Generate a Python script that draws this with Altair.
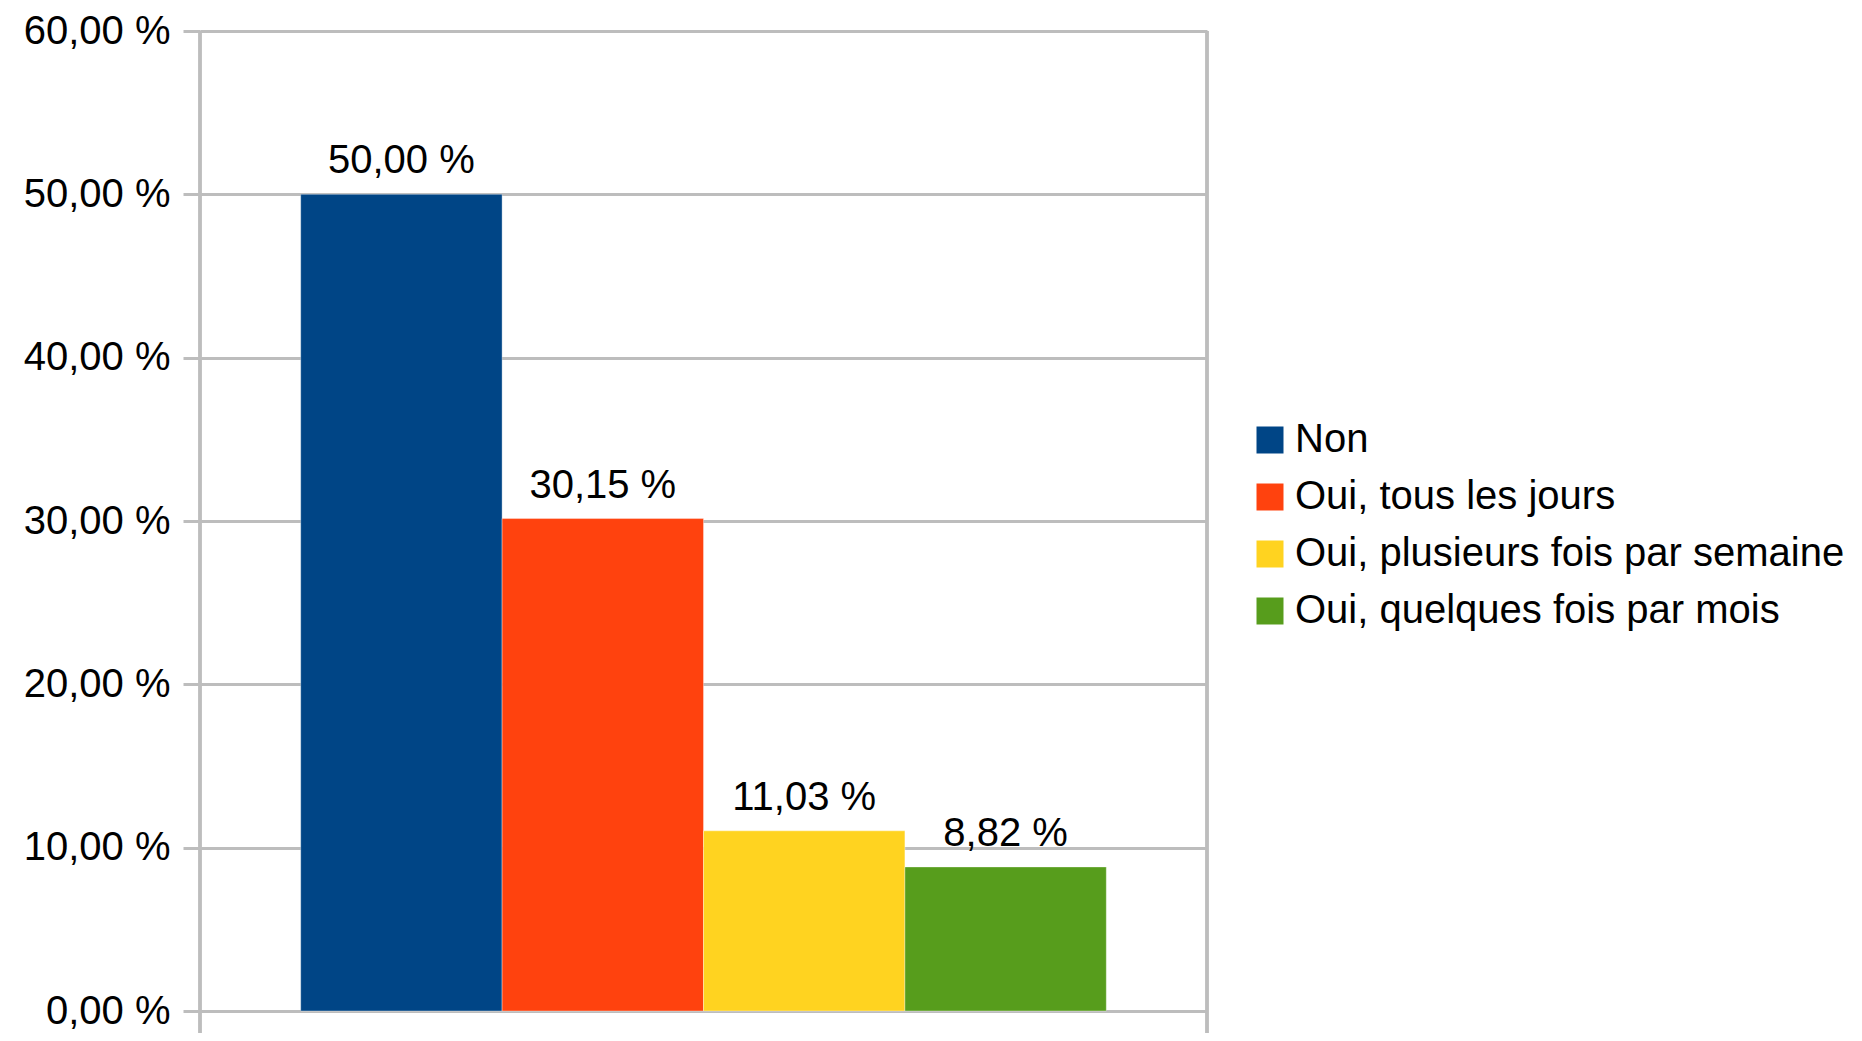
import altair as alt
import pandas as pd

categories = ["Non", "Oui, tous les jours", "Oui, plusieurs fois par semaine", "Oui, quelques fois par mois"]
values = [50.00, 30.15, 11.03, 8.82]
colors = ["#004586", "#ff420e", "#ffd320", "#579d1c"]
y_ticks = [0, 10, 20, 30, 40, 50, 60]

df = pd.DataFrame({"cat": categories, "val": values})

W, H = 1007, 980
FONT = "Liberation Sans"
GRID = "#bdbdbd"

base = alt.Chart(df)

x_enc = alt.X("cat:N", sort=categories, axis=None,
              scale=alt.Scale(paddingInner=0, paddingOuter=0.5))
y_scale = alt.Scale(domain=[0, 60], nice=False)

bars = base.mark_bar(stroke="white", strokeOpacity=0.35, strokeWidth=1).encode(
    x=x_enc,
    y=alt.Y("val:Q", scale=y_scale,
            axis=alt.Axis(values=y_ticks, title=None, grid=True, gridColor=GRID, gridWidth=3,
                          domain=False, ticks=True, tickColor=GRID, tickWidth=3, tickSize=17,
                          labelPadding=13, labelFont=FONT, labelFontSize=40, labelColor="#000000",
                          labelExpr="replace(format(datum.value, '.2f'), '.', ',') + ' %'")),
    color=alt.Color("cat:N", sort=categories,
                    scale=alt.Scale(domain=categories, range=colors),
                    legend=alt.Legend(title=None, orient="none", legendX=1050, legendY=389,
                                      symbolType="square", symbolSize=729, symbolStrokeWidth=0,
                                      labelFont=FONT, labelFontSize=40, labelColor="#000000",
                                      labelOffset=5, rowPadding=17, labelLimit=800)),
)

labels = base.transform_calculate(
    lab="replace(format(datum.val, '.2f'), '.', ',') + ' %'"
).mark_text(font=FONT, fontSize=40, color="#000000", baseline="alphabetic", dy=-21).encode(
    x=x_enc,
    y=alt.Y("val:Q", scale=y_scale),
    text="lab:N",
)

left_line = alt.Chart(df).mark_rule(color=GRID, strokeWidth=3).encode(
    x=alt.value(0), y=alt.value(0), y2=alt.value(H + 22))
right_line = alt.Chart(df).mark_rule(color=GRID, strokeWidth=3).encode(
    x=alt.value(W), y=alt.value(0), y2=alt.value(H + 22))

chart = alt.layer(bars, labels, left_line, right_line).properties(
    width=W, height=H,
    autosize=alt.AutoSizeParams(type="none"),
    padding={"left": 192, "top": 23, "right": 647, "bottom": 22},
).configure_view(stroke=None)

chart.save("out.html", embed_options={"renderer": "svg", "actions": False})
